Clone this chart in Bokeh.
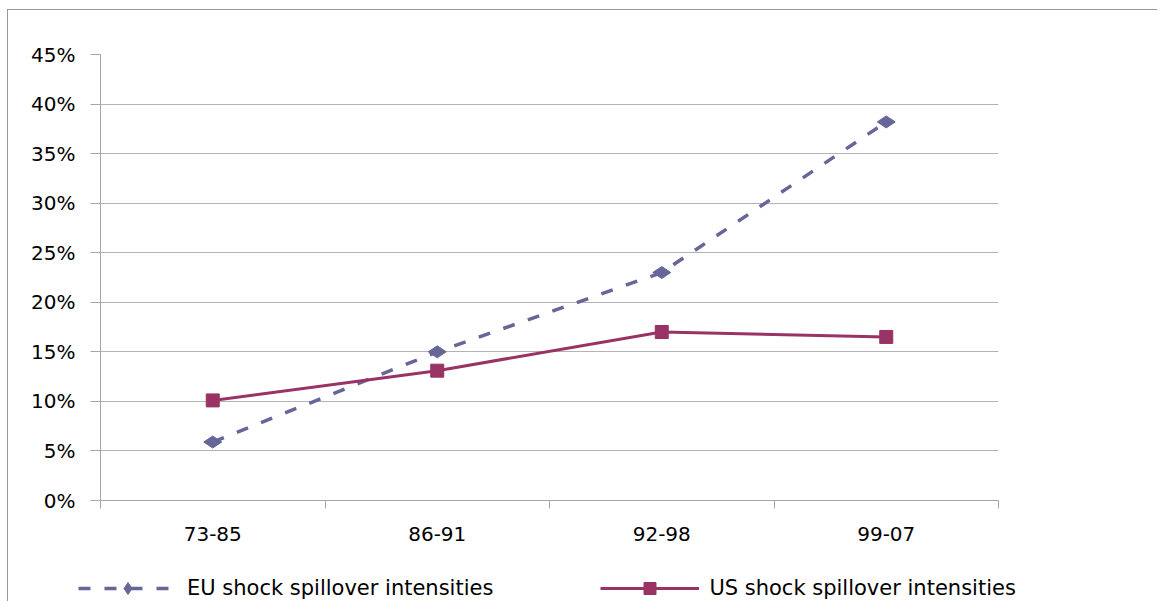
import math
from bokeh.plotting import figure
from bokeh.layouts import column
from bokeh.models import (ColumnDataSource, FactorRange, Range1d, LinearAxis, CategoricalAxis,
                          FixedTicker, NumeralTickFormatter, Legend, LegendItem)
from bokeh.embed import file_html
from bokeh.resources import INLINE

categories = ["73-85", "86-91", "92-98", "99-07"]
eu_values = [0.059, 0.150, 0.230, 0.382]
us_values = [0.101, 0.131, 0.170, 0.165]
y_ticks = [0.0, 0.05, 0.10, 0.15, 0.20, 0.25, 0.30, 0.35, 0.40, 0.45]
boundary_ticks = [0, 1, 2, 3, 4]
eu_label = "EU shock spillover intensities"
us_label = "US shock spillover intensities"

EU_COLOR = "#666699"
US_COLOR = "#993366"
GRID = "#b3b3b3"
AXIS = "#a6a6a6"
FONT = "DejaVu Sans"

EU_LINE = dict(line_color=EU_COLOR, line_width=3.5, line_dash="12 14")
EU_MARK = dict(marker="diamond", size=18, angle=math.pi / 2, fill_color=EU_COLOR, line_color=EU_COLOR)
US_LINE = dict(line_color=US_COLOR, line_width=3)
US_MARK = dict(marker="square", size=13, fill_color=US_COLOR, line_color=US_COLOR)

src = ColumnDataSource(data=dict(cat=categories, eu=eu_values, us=us_values))

p = figure(width=1149, height=545, x_range=FactorRange(factors=categories),
           y_range=Range1d(0, 0.45), x_axis_location=None,
           output_backend="svg", toolbar_location=None,
           min_border_left=92, min_border_right=159, min_border_top=44, min_border_bottom=55)
p.outline_line_color = None
p.background_fill_color = "white"
p.border_fill_color = "white"

# tick marks at the category boundaries (synthetic coordinates of the factor range)
tick_axis = LinearAxis(ticker=FixedTicker(ticks=boundary_ticks),
                       major_label_text_font_size="0px", major_label_standoff=0,
                       major_tick_out=8, major_tick_in=0, minor_tick_line_color=None,
                       axis_line_color=AXIS, major_tick_line_color=AXIS, major_tick_line_width=1)
p.add_layout(tick_axis, "below")
cat_axis = CategoricalAxis(major_tick_line_color=None, axis_line_color=None, major_tick_out=0,
                           major_label_standoff=18, major_label_text_font=FONT,
                           major_label_text_font_size="20px", major_label_text_color="#000000")
p.add_layout(cat_axis, "below")

yaxis = p.yaxis[0]
yaxis.ticker = FixedTicker(ticks=y_ticks)
yaxis.formatter = NumeralTickFormatter(format="0%")
yaxis.major_tick_out = 10
yaxis.major_tick_in = 0
yaxis.minor_tick_line_color = None
yaxis.axis_line_color = AXIS
yaxis.major_tick_line_color = AXIS
yaxis.major_label_standoff = 15
yaxis.major_label_text_font = FONT
yaxis.major_label_text_font_size = "20px"
yaxis.major_label_text_color = "#000000"

p.xgrid.grid_line_color = None
p.ygrid.grid_line_color = GRID
p.ygrid.grid_line_width = 1
p.ygrid.ticker = FixedTicker(ticks=y_ticks)

p.line(x="cat", y="eu", source=src, **EU_LINE)
p.scatter(x="cat", y="eu", source=src, **EU_MARK)
p.line(x="cat", y="us", source=src, **US_LINE)
p.scatter(x="cat", y="us", source=src, **US_MARK)

# legend strip below the chart: same series drawn out of its view, only the legend shows
lg = figure(width=1149, height=46, x_range=p.x_range, y_range=Range1d(10, 11),
            x_axis_location=None, y_axis_location=None,
            output_backend="svg", toolbar_location=None,
            min_border_left=0, min_border_right=0, min_border_top=0, min_border_bottom=0)
lg.frame_align = False
lg.outline_line_color = None
lg.grid.grid_line_color = None
lg.border_fill_color = "white"
r1 = lg.line(x="cat", y="eu", source=src, **EU_LINE)
r2 = lg.scatter(x="cat", y="eu", source=src, **EU_MARK)
r3 = lg.line(x="cat", y="us", source=src, **US_LINE)
r4 = lg.scatter(x="cat", y="us", source=src, **US_MARK)
legend = Legend(items=[LegendItem(label=eu_label, renderers=[r1, r2]),
                       LegendItem(label=us_label, renderers=[r3, r4])],
                orientation="horizontal", location=(70, -2),
                glyph_width=99, glyph_height=30, label_standoff=10, spacing=107,
                padding=0, margin=0, border_line_color=None, background_fill_alpha=0,
                label_text_font=FONT, label_text_font_size="21px", label_text_color="#000000")
lg.add_layout(legend, "center")

layout = column(p, lg, spacing=0)
layout.styles = {"border-left": "1px solid #999999", "border-top": "1px solid #999999",
                 "margin-top": "9px", "margin-left": "7px"}

open("out.html", "w").write(file_html(layout, INLINE))
